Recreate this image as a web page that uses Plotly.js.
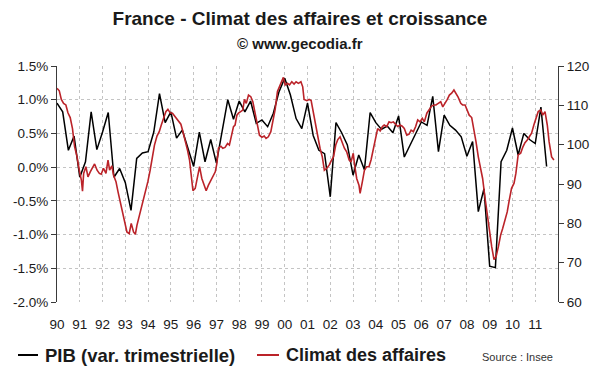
<!DOCTYPE html>
<html>
<head>
<meta charset="utf-8">
<script src="https://cdn.plot.ly/plotly-3.0.1.min.js"></script>
<style>html,body{margin:0;padding:0;background:#fff;}#chart{width:600px;height:372px;}</style>
</head>
<body>
<div id="chart"></div>
<script>
// ---- Data ----
const startYear = 1990;
const yearTicks = [1990,1991,1992,1993,1994,1995,1996,1997,1998,1999,2000,2001,2002,2003,2004,2005,2006,2007,2008,2009,2010,2011];
const yearLabels = ["90","91","92","93","94","95","96","97","98","99","00","01","02","03","04","05","06","07","08","09","10","11"];

// PIB, quarterly variation (%), one value per quarter starting Q1 1990
const pibValues = [
 0.95,0.82,0.25,0.46, -0.15,0.08,0.82,0.26, 0.52,0.81,-0.15,-0.02, -0.23,-0.64,0.13,0.21,
 0.23,0.52,1.09,0.66, 0.82,0.43,0.55,0.28, 0.01,0.52,0.08,0.41, 0.06,0.53,1.00,0.71,
 0.98,0.82,0.98,0.65, 0.70,0.60,0.80,1.12, 1.32,1.07,0.72,0.57, 0.95,0.47,0.25,0.20,
 -0.44,0.66,0.51,0.33, -0.12,0.18,-0.04,0.81, 0.66,0.56,0.61,0.51, 0.76,0.15,0.33,0.51,
 0.67,0.62,1.05,0.23, 0.77,0.62,0.55,0.45, 0.16,0.38,-0.66,-0.32, -1.47,-1.49,0.08,0.25,
 0.58,0.18,0.50,0.41, 0.35,0.89,0.01
];

// Climat des affaires (right axis): time in years since Jan 1990, index value
const climatYearOffset = [
 0.00,0.10,0.19,0.29,0.39,0.48,0.58,0.68,0.77,0.88,0.98,1.07,1.12,1.17,1.27,1.36,1.46,1.56,1.65,1.76,1.86,1.94,
 2.04,2.15,2.24,2.31,2.41,2.48,2.59,2.68,2.78,2.88,2.97,3.07,3.17,3.26,3.36,3.44,3.51,3.61,3.70,3.80,3.91,3.99,
 4.09,4.19,4.28,4.39,4.49,4.58,4.68,4.78,4.87,4.97,5.07,5.16,5.27,5.37,5.44,5.53,5.63,5.73,5.82,5.92,5.97,
 6.07,6.17,6.26,6.36,6.46,6.55,6.65,6.76,6.85,6.95,7.02,7.09,7.20,7.28,7.38,7.49,7.57,7.68,7.75,7.82,7.90,7.97,
 8.07,8.16,8.23,8.31,8.41,8.51,8.60,8.70,8.80,8.89,9.00,9.10,9.18,9.28,9.39,9.48,9.58,9.68,9.77,9.87,9.94,
 10.02,10.12,10.21,10.31,10.41,10.50,10.60,10.71,10.79,10.85,10.97,11.07,11.16,11.26,11.36,11.45,11.55,11.65,11.74,11.85,11.95,
 12.04,12.14,12.24,12.33,12.43,12.53,12.62,12.72,12.83,12.91,13.01,13.06,13.16,13.26,13.31,13.41,13.50,13.60,13.70,13.79,13.89,
 14.00,14.08,14.19,14.29,14.37,14.48,14.58,14.67,14.77,14.87,14.96,15.06,15.16,15.25,15.36,15.46,15.55,15.65,15.75,15.84,15.94,
 16.04,16.13,16.24,16.35,16.45,16.56,16.64,16.74,16.85,16.94,17.04,17.14,17.23,17.33,17.43,17.52,17.62,17.73,17.81,17.92,
 18.02,18.10,18.21,18.31,18.40,18.50,18.60,18.69,18.79,18.89,18.98,19.09,19.19,19.28,19.38,19.48,19.57,19.67,19.77,19.86,19.96,
 20.07,20.15,20.25,20.36,20.45,20.55,20.65,20.74,20.84,20.94,21.03,21.13,21.24,21.33,21.43,21.53,21.61,21.72,21.82
];
const climatValues = [
 114.3,113.7,111.5,110.5,110.1,108.1,106.9,104.1,99.6,96.9,93.5,91.0,88.2,92.7,94.4,91.8,93.1,94.0,95.1,93.5,92.7,92.5,
 94.0,92.7,96.1,93.5,94.6,92.3,90.6,88.0,85.5,82.5,80.0,77.8,77.4,80.0,77.8,77.2,79.5,81.7,83.8,85.9,88.4,90.6,
 93.5,97.4,99.9,102.2,103.3,105.0,106.7,108.4,109.0,108.1,108.0,107.3,106.3,105.8,105.2,103.3,101.2,98.6,96.1,91.0,88.3,
 88.9,91.4,94.4,91.4,90.0,88.3,89.7,91.0,92.0,93.1,95.2,99.1,99.6,99.1,99.3,100.3,99.9,103.3,104.6,105.0,107.5,108.0,
 108.4,108.8,111.5,110.5,112.6,112.2,110.9,108.0,105.8,102.4,101.9,102.2,101.6,102.0,103.3,105.8,109.0,113.5,114.7,116.0,117.1,
 115.2,115.6,115.2,116.0,115.4,116.0,115.6,116.0,114.7,111.5,111.2,111.5,111.2,108.0,105.0,102.0,99.1,96.9,93.5,94.0,94.8,
 95.9,96.9,99.9,101.3,102.0,100.3,99.1,98.2,96.1,95.6,97.8,95.2,91.4,89.7,87.6,90.6,93.5,94.4,94.4,96.1,99.1,
 102.0,104.1,103.5,104.6,105.0,104.6,105.8,105.6,105.8,105.0,104.6,105.0,104.7,104.1,102.4,102.7,103.7,103.3,104.6,106.3,105.8,
 106.7,105.8,108.0,108.8,109.8,110.1,110.1,110.5,110.9,109.6,110.5,111.5,112.6,113.1,113.9,113.1,112.0,110.5,110.1,110.1,
 108.8,107.5,106.9,104.1,100.7,96.9,94.4,91.4,86.7,82.5,77.8,74.0,70.8,71.5,74.0,77.0,78.7,80.8,82.9,85.9,88.9,
 90.2,92.7,97.4,97.8,99.3,100.5,101.2,102.0,102.9,105.0,106.7,108.4,108.8,107.5,108.4,105.0,100.7,96.9,96.1
];

const leftTickVals = [-2,-1.5,-1,-0.5,0,0.5,1,1.5];
const leftTickText = ["-2.0%","-1.5%","-1.0%","-0.5%","0.0%","0.5%","1.0%","1.5%"];
const rightTickVals = [60,70,80,90,100,110,120];

// ---- Derived x positions (dates as decimal years) ----
const pibX = pibValues.map((v, i) => startYear + i / 4);
const climatX = climatYearOffset.map(t => startYear + t);

const FONT = "Liberation Sans, Arial, sans-serif";
const AX = "#3a3a3a";
const GRID = "#c4c4c4";
const RED = "#bb2329";

const traces = [
  {x: climatX, y: climatValues, type: "scatter", mode: "lines", name: "Climat des affaires",
   xaxis: "x", yaxis: "y2", line: {color: RED, width: 1.6}, showlegend: false, hoverinfo: "skip"},
  {x: pibX, y: pibValues, type: "scatter", mode: "lines", name: "PIB (var. trimestrielle)",
   xaxis: "x", yaxis: "y", line: {color: "#000000", width: 1.5}, showlegend: false, hoverinfo: "skip"}
];

const y0 = 2 / 3.5; // paper position of 0% on the left axis

const layout = {
  width: 600, height: 372,
  margin: {l: 57, r: 42, t: 66, b: 70},
  paper_bgcolor: "#ffffff", plot_bgcolor: "#ffffff",
  font: {family: FONT, color: "#1a1a1a"},
  showlegend: false,
  title: {text: "France - Climat des affaires et croissance", font: {family: FONT, size: 19, color: "#1a1a1a", weight: "bold"},
          x: 0.5, xref: "container", xanchor: "center", y: 1 - 18/372, yref: "container", yanchor: "middle"},
  xaxis: {range: [1990, 2012], tickmode: "array", tickvals: yearTicks, ticktext: yearLabels,
          showgrid: true, gridcolor: GRID, griddash: "dot", gridwidth: 1, zeroline: false, showline: false,
          ticks: "", tickfont: {size: 13.5, color: "#1a1a1a"}, ticklabelstandoff: 12},
  xaxis2: {overlaying: "x", side: "top", anchor: "y", range: [1990, 2012], tickmode: "array", tickvals: yearTicks,
           showticklabels: false, showgrid: false, zeroline: false, showline: true, linecolor: AX, linewidth: 1,
           ticks: "inside", ticklen: 5, tickcolor: AX},
  xaxis3: {overlaying: "x", anchor: "free", position: y0, range: [1990, 2012], tickmode: "array", tickvals: yearTicks,
           showticklabels: false, showgrid: false, zeroline: false, showline: true, linecolor: AX, linewidth: 1.2,
           ticks: "inside", ticklen: 5, tickcolor: AX},
  yaxis: {range: [-2, 1.5], tickmode: "array", tickvals: leftTickVals, ticktext: leftTickText,
          showgrid: true, gridcolor: GRID, griddash: "dot", gridwidth: 1, zeroline: false,
          showline: true, linecolor: AX, linewidth: 1, ticks: "outside", ticklen: 5, tickcolor: AX,
          tickfont: {size: 13.5, color: "#1a1a1a"}},
  yaxis2: {overlaying: "y", side: "right", anchor: "x", range: [60, 120], tickmode: "array", tickvals: rightTickVals,
           showgrid: false, zeroline: false, showline: true, linecolor: AX, linewidth: 1, ticks: "outside", ticklen: 5,
           tickcolor: AX, tickfont: {size: 13.5, color: "#1a1a1a"}},
  shapes: [
    {type: "line", xref: "paper", yref: "paper", x0: (18-57)/501, x1: (38-57)/501, y0: (302-355)/236, y1: (302-355)/236,
     line: {color: "#000000", width: 2}},
    {type: "line", xref: "paper", yref: "paper", x0: (257-57)/501, x1: (279-57)/501, y0: (302-355)/236, y1: (302-355)/236,
     line: {color: RED, width: 2}}
  ],
  annotations: [
    {text: "© www.gecodia.fr", xref: "paper", yref: "paper", x: (300-57)/501, y: (302-43)/236,
     xanchor: "center", yanchor: "middle", showarrow: false, font: {family: FONT, size: 15, color: "#1a1a1a", weight: "bold"}},
    {text: "PIB (var. trimestrielle)", xref: "paper", yref: "paper", x: (43-57)/501, y: (302-355)/236,
     xanchor: "left", yanchor: "middle", showarrow: false, font: {family: FONT, size: 18.5, color: "#1a1a1a", weight: "bold"}},
    {text: "Climat des affaires", xref: "paper", yref: "paper", x: (284-57)/501, y: (302-355)/236,
     xanchor: "left", yanchor: "middle", showarrow: false, font: {family: FONT, size: 18, color: "#1a1a1a", weight: "bold"}},
    {text: "Source : Insee", xref: "paper", yref: "paper", x: (480-57)/501, y: (302-357)/236,
     xanchor: "left", yanchor: "middle", showarrow: false, font: {family: FONT, size: 11, color: "#333333"}}
  ]
};

Plotly.newPlot("chart", traces, layout, {staticPlot: true, displayModeBar: false});
</script>
</body>
</html>
